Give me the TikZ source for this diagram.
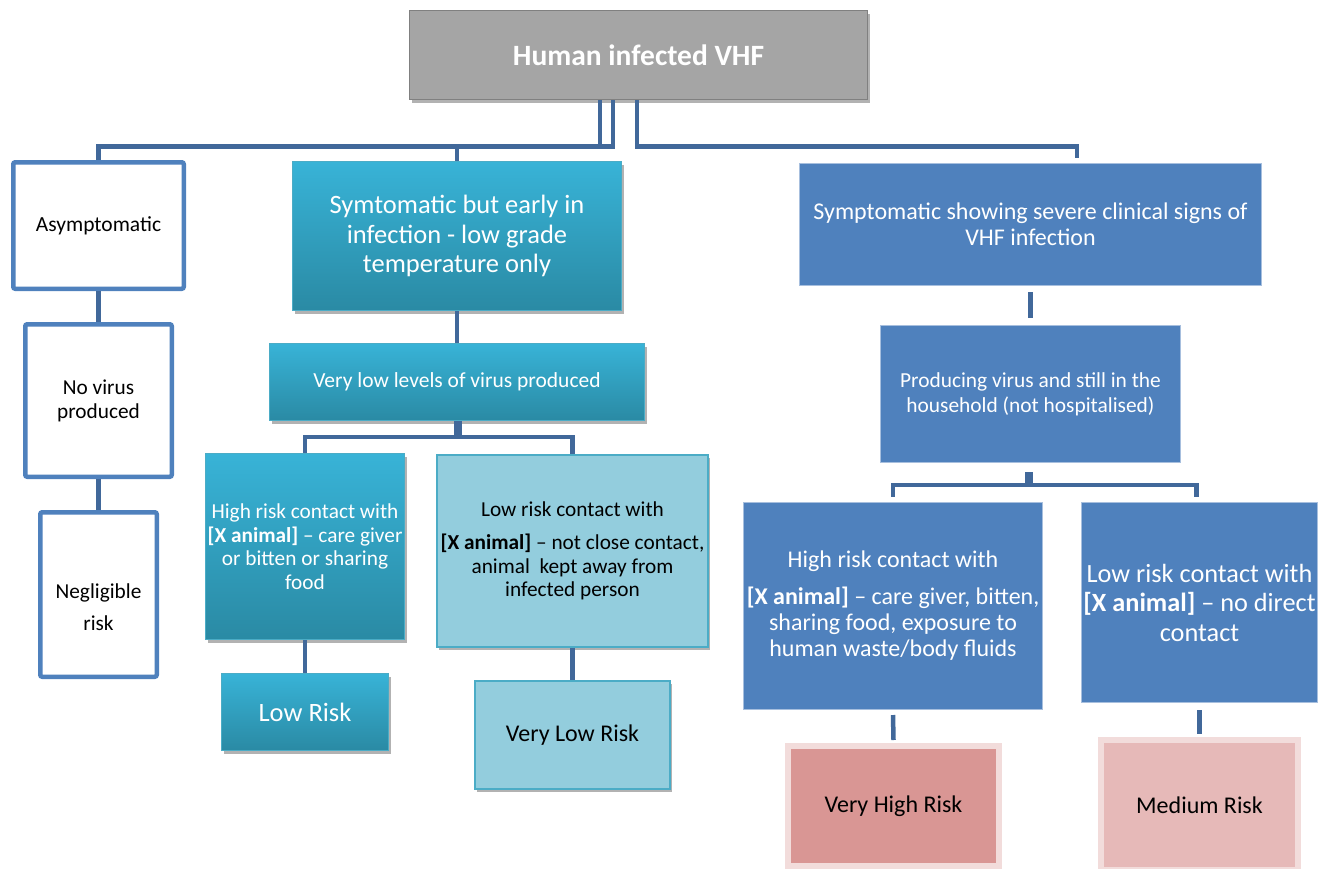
\documentclass[tikz,border=0pt]{standalone}
\usepackage{fontspec}
\setmainfont{Carlito}
\usetikzlibrary{shadows}
\definecolor{linkblue}{HTML}{41689A}
\definecolor{boxblue}{HTML}{4F81BD}
\definecolor{blueedge}{HTML}{A7BFDE}
\definecolor{tealtop}{HTML}{38B3D7}
\definecolor{tealbot}{HTML}{2A8AA4}
\definecolor{tealedge}{HTML}{4BACC6}
\definecolor{lightteal}{HTML}{93CDDD}
\definecolor{redrisk}{HTML}{D99694}
\definecolor{pinkrisk}{HTML}{E6B9B8}
\definecolor{pinkedge}{HTML}{F2DCDB}
\definecolor{topgray}{HTML}{A5A5A5}
\newcommand{\setfs}[2]{\fontsize{#1}{#2}\selectfont}

\begin{document}
\begin{tikzpicture}[x=1pt,y=-1pt,
  link/.style={draw=linkblue, line width=4.5pt},
  shade/.style={drop shadow={shadow xshift=2pt, shadow yshift=-3pt, opacity=0.3, fill=black}},
  whitebox/.style={draw=boxblue, line width=4.5pt, fill=white, rounded corners=2pt, align=center, inner sep=0pt},
  tealbox/.style={top color=tealtop, bottom color=tealbot, draw=tealedge, line width=1pt, text=white, align=center, inner sep=0pt, shade},
  lightbox/.style={fill=lightteal, draw=tealedge, line width=1.5pt, align=center, inner sep=0pt, shade},
  bluebox/.style={fill=boxblue, draw=blueedge, line width=1pt, text=white, align=center, inner sep=0pt},
  riskbox/.style={draw=pinkedge, line width=6pt, align=center, inner sep=0pt}]
\useasboundingbox (0,0) rectangle (1333,868);

% top
\node[fill=topgray, draw=gray, line width=1.5pt, text=white, inner sep=0pt, shade,
  minimum width=458, minimum height=89, font=\setfs{29.5}{33}\bfseries] (human) at (638.5,55) {Human infected VHF};

% asymptomatic branch
\node[whitebox, minimum width=170.5, minimum height=126.5, font=\setfs{21.5}{24}] (asym) at (98.5,225.5) {Asymptomatic};
\node[whitebox, minimum width=146.5, minimum height=152.5, font=\setfs{21.3}{24}] (novirus) at (98.5,400.5) {No virus\\produced};
\node[whitebox, minimum width=116.5, minimum height=164.5,
  label={[align=center, yshift=-13pt, font=\setfs{21.3}{32}]center:Negligible\\risk}] (negl) at (98.5,594.5) {};

% early branch
\node[tealbox, minimum width=329, minimum height=149, font=\setfs{26.5}{29.5}] (early) at (457,236) {Symtomatic but early in\\infection - low grade\\temperature only};
\node[tealbox, minimum width=375, minimum height=77, font=\setfs{21.5}{24}] (lowlev) at (457,382) {Very low levels of virus produced};
\node[tealbox, minimum width=199, minimum height=186, font=\setfs{21.3}{23.5}] (hriskL) at (305,546.5) {High risk contact with\\\textbf{[X animal]} -- care giver\\or bitten or sharing\\food};
\node[lightbox, minimum width=271, minimum height=192, font=\setfs{21.3}{23.5}] (lriskL) at (572.5,551) {Low risk contact with\\[10pt]\textbf{[X animal]} -- not close contact,\\animal\ \ kept away from\\infected person};
\node[tealbox, minimum width=167, minimum height=77, font=\setfs{26.5}{29}] (lowrisk) at (305,712) {Low Risk};
\node[lightbox, minimum width=195, minimum height=108, font=\setfs{24}{27}] (vlow) at (572.5,735) {Very Low Risk};

% severe branch
\node[bluebox, minimum width=462, minimum height=122, font=\setfs{24}{26}] (severe) at (1030.5,224.5) {Symptomatic showing severe clinical signs of\\VHF infection};
\node[bluebox, minimum width=300, minimum height=137, font=\setfs{21.4}{25}] (prod) at (1030.5,394) {Producing virus and still in the\\household (not hospitalised)};
\node[bluebox, minimum width=299, minimum height=207, font=\setfs{24}{26}] (hriskR) at (893,606) {High risk contact with\\[11pt]\textbf{[X animal]} -- care giver, bitten,\\sharing food, exposure to\\human waste/body fluids};
\node[bluebox, minimum width=236, minimum height=200, font=\setfs{26.3}{29.5}] (lriskR) at (1199.5,602.5) {Low risk contact with\\\textbf{[X animal]} -- no direct\\contact};
\node[riskbox, fill=redrisk, minimum width=211, minimum height=120, font=\setfs{24}{27}] (vhigh) at (893.5,806) {Very High Risk};
\node[riskbox, fill=pinkrisk, minimum width=197, minimum height=130, font=\setfs{24}{27}] (medium) at (1199.5,805) {Medium Risk};

% connectors
\draw[link] ([xshift=-38.5pt]human.south) -- ++(0,46) -| (asym.north);
\draw[link] ([xshift=-25.5pt]human.south) -- ++(0,46) -| (early.north);
\draw[link] ([xshift=-1.5pt]human.south) -- ++(0,46) -| ([xshift=46.5pt,yshift=5pt]severe.north);
\draw[link] (asym) -- (novirus);
\draw[link] (novirus) -- (negl);
\draw[link] (early) -- (lowlev);
\draw[link] ([xshift=-1pt]lowlev.south) -- ++(0,16) -| (hriskL.north);
\draw[link] ([xshift=3pt]lowlev.south) -- ++(0,16) -| (lriskL.north);
\draw[link] (hriskL) -- (lowrisk);
\draw[link] (lriskL) -- (vlow);
\draw[link] ([yshift=-6pt]severe.south) -- ([yshift=7pt]prod.north);
\draw[link] ([yshift=-9pt]prod.south) -- ++(0,13) -| ([yshift=5pt]hriskR.north);
\draw[link] ([xshift=-3pt,yshift=-9pt]prod.south) -- ++(0,13) -| ([xshift=-3pt,yshift=5pt]lriskR.north);
\draw[link] ([yshift=-5pt]hriskR.south) -- ([yshift=3pt]vhigh.north);
\draw[link] ([yshift=-7pt]lriskR.south) -- ([yshift=3pt]medium.north);
\end{tikzpicture}
\end{document}
